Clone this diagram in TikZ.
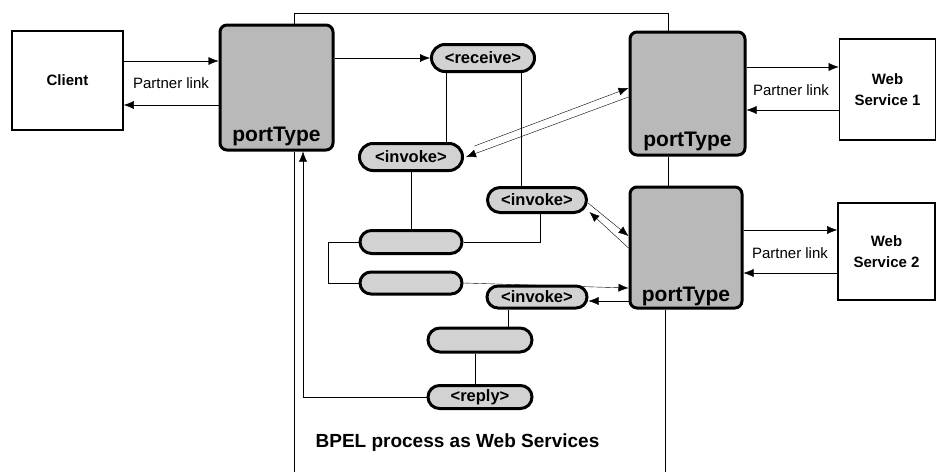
\documentclass[tikz,border=0pt]{standalone}
\usepackage{fontspec}
\setmainfont{Liberation Sans}
\usetikzlibrary{arrows.meta,shapes.misc,backgrounds}
\begin{document}
\begin{tikzpicture}[x=1pt,y=-1pt,
  line width=2pt,
  arr/.style={-{Latex[length=10pt,width=8pt]}},
  plainbox/.style={draw, line width=1.6pt, inner sep=0pt, align=center, font=\fontsize{15}{21}\selectfont\bfseries},
  port/.style={draw, line width=3pt, rounded corners=7pt, fill=gray!55, inner sep=0pt},
  pill/.style={draw, line width=3pt, rounded rectangle, fill=gray!35, inner sep=0pt, font=\fontsize{16.5}{16.5}\selectfont\bfseries},
  lbl/.style={font=\fontsize{15}{15}\selectfont, inner sep=1pt},
  ptlabel/.style={font=\fontsize{21}{21}\selectfont\bfseries, anchor=base, inner sep=0pt},
  titlelbl/.style={font=\fontsize{19}{19}\selectfont\bfseries, inner sep=0pt}
]
\begin{pgfonlayer}{background}
\fill[white] (0,0) rectangle (939,471);
\end{pgfonlayer}
\useasboundingbox (0,0) rectangle (939,471);

% boxes
\node[plainbox, minimum width=111pt, minimum height=99pt] (client) at (67.5,80.5) {Client};
\node[plainbox, minimum width=96pt, minimum height=101pt] (ws1) at (887.5,89.5) {Web\\Service 1};
\node[plainbox, minimum width=97pt, minimum height=97pt] (ws2) at (886.5,251.5) {Web\\Service 2};

\node[port, minimum width=113pt, minimum height=125pt] (pt0) at (276.5,87.5) {};
\node[port, minimum width=115pt, minimum height=123pt] (pt1) at (687.5,93.5) {};
\node[port, minimum width=112pt, minimum height=121pt] (pt2) at (686,247.5) {};
\node[ptlabel] (pl0) at ([shift={(0,-10)}]pt0.south) {portType};
\node[ptlabel] (pl1) at ([shift={(0,-10)}]pt1.south) {portType};
\node[ptlabel] (pl2) at ([shift={(0,-8)}]pt2.south) {portType};

% activities
\node[pill, minimum width=103pt, minimum height=27pt] (receive) at (483,58) {<receive>};
\node[pill, minimum width=103pt, minimum height=27pt] (inv1) at (411,157) {<invoke>};
\node[pill, minimum width=99pt, minimum height=25pt] (inv2) at (537,200) {<invoke>};
\node[pill, minimum width=102pt, minimum height=23pt] (as1) at (411,242) {};
\node[pill, minimum width=102pt, minimum height=22pt] (sw) at (411,283) {};
\node[pill, minimum width=100pt, minimum height=22pt] (inv3) at (537,297) {<invoke>};
\node[pill, minimum width=104pt, minimum height=24pt] (p3) at (480,340) {};
\node[pill, minimum width=104pt, minimum height=23pt] (reply) at (480,397) {<reply>};

% labels
\node[lbl] (l0) at (171,83) {Partner link};
\node[lbl] (l1) at (791,90) {Partner link};
\node[lbl] (l2) at (790,253) {Partner link};
\node[titlelbl] (title) at (457.5,443) {BPEL process as Web Services};

\begin{pgfonlayer}{background}
% partner links
\coordinate (c1) at ([shift={(0,-19.5)}]client.east);
\coordinate (c2) at ([shift={(0,24.5)}]client.east);
\draw[arr] (c1) -- (c1 -| pt0.west);
\draw[arr] (c2 -| pt0.west) -- (c2);
\coordinate (w1a) at ([shift={(0,-22.5)}]ws1.west);
\coordinate (w1b) at ([shift={(0,20.5)}]ws1.west);
\draw[arr] (w1a -| pt1.east) -- (w1a);
\draw[arr] (w1b) -- (w1b -| pt1.east);
\coordinate (w2a) at ([shift={(0,-21.5)}]ws2.west);
\coordinate (w2b) at ([shift={(0,21.5)}]ws2.west);
\draw[arr] (w2a -| pt2.east) -- (w2a);
\draw[arr] (w2b) -- (w2b -| pt2.east);

% process frame
\coordinate (ftl) at ([shift={(17.5,-10)}]pt0.north);
\draw ([shift={(17.5,0)}]pt0.north) -- (ftl) -| ([shift={(-19.5,0)}]pt1.north);
\coordinate (fbl) at ([shift={(17.5,321)}]pt0.south);
\draw ([shift={(17.5,0)}]pt0.south) -- (fbl);
\draw ([shift={(-19.5,0)}]pt1.south) -- ([shift={(-18,0)}]pt2.north);
\coordinate (fbr) at ([shift={(-21,163)}]pt2.south);
\draw ([shift={(-21,0)}]pt2.south) -- (fbr);

% flow
\draw[arr] (pt0.east |- receive.west) -- (receive.west);
\coordinate (r1) at ([shift={(-37,0)}]receive.south);
\draw (r1) -- (r1 |- inv1.north);
\coordinate (r2) at ([shift={(38,0)}]receive.south);
\draw (r2) -- (r2 |- inv2.north);
\draw (inv1.south) -- (as1.north);
\draw ([shift={(3,0)}]inv2.south) |- (as1.east);
\draw (as1.west) -- ++(-30,0) |- (sw.west);
\draw[arr] (sw.east) -- ([shift={(0,40.5)}]pt2.west);
\coordinate (q) at ([shift={(0,53.5)}]pt2.west);
\draw[arr] (q) -- (q -| inv3.east);
\draw[arr] ([shift={(10.5,-11)}]inv1.east) -- ([shift={(0,-5.5)}]pt1.west);
\draw[arr] ([shift={(0,3.5)}]pt1.west) -- ([shift={(2,0)}]inv1.east);
\draw[arr] ([shift={(0,3)}]inv2.east) -- ([shift={(0,-11.5)}]pt2.west);
\draw[arr] ([shift={(0,0.5)}]pt2.west) -- ([shift={(1.5,12)}]inv2.east);
\coordinate (i3) at ([shift={(-29,0)}]inv3.south);
\draw (i3) -- (i3 |- p3.north);
\coordinate (p3s) at ([shift={(-5,0)}]p3.south);
\draw (p3s) -- (p3s |- reply.north);
\draw[arr] (reply.west) -| ([shift={(26.5,0)}]pt0.south);
\end{pgfonlayer}
\end{tikzpicture}
\end{document}
